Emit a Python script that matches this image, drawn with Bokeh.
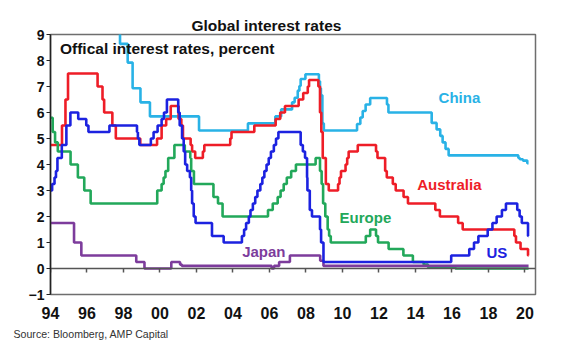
from bokeh.plotting import figure
from bokeh.models import Range1d, FixedTicker, LinearAxis, Label, Title
from bokeh.embed import file_html
from bokeh.resources import INLINE

# ---- data: change points (decimal year, percent) ----
us_year = [1994.0, 1994.09, 1994.22, 1994.30, 1994.38, 1994.62, 1994.87, 1995.09, 1995.52, 1995.96,
           1996.08, 1997.23, 1998.74, 1998.79, 1998.87, 1999.50, 1999.65, 1999.87, 2000.09, 2000.22,
           2000.38, 2001.00, 2001.08, 2001.21, 2001.30, 2001.38, 2001.49, 2001.64, 2001.71, 2001.76,
           2001.85, 2001.95, 2002.85, 2003.49, 2004.49, 2004.61, 2004.72, 2004.87, 2004.96, 2005.09,
           2005.22, 2005.34, 2005.50, 2005.61, 2005.72, 2005.84, 2005.96, 2006.08, 2006.24, 2006.36,
           2006.49, 2007.71, 2007.83, 2007.95, 2008.06, 2008.08, 2008.21, 2008.33, 2008.77, 2008.83,
           2008.96, 2015.96, 2016.95, 2017.21, 2017.45, 2017.96, 2018.22, 2018.45, 2018.74, 2018.96,
           2019.58, 2019.71, 2019.83, 2020.17, 2020.20]
us_rate = [3.0, 3.25, 3.5, 3.75, 4.25, 4.75, 5.5, 6.0, 5.75, 5.5,
           5.25, 5.5, 5.25, 5.0, 4.75, 5.0, 5.25, 5.5, 5.75, 6.0,
           6.5, 6.0, 5.5, 5.0, 4.5, 4.0, 3.75, 3.5, 3.0, 2.5,
           2.0, 1.75, 1.25, 1.0, 1.25, 1.5, 1.75, 2.0, 2.25, 2.5,
           2.75, 3.0, 3.25, 3.5, 3.75, 4.0, 4.25, 4.5, 4.75, 5.0,
           5.25, 4.75, 4.5, 4.25, 3.5, 3.0, 2.25, 2.0, 1.5, 1.0,
           0.25, 0.5, 0.75, 1.0, 1.25, 1.5, 1.75, 2.0, 2.25, 2.5,
           2.25, 2.0, 1.75, 1.25, 1.25]

aus_year = [1994.0, 1994.63, 1994.82, 1994.96, 1996.58, 1996.85, 1996.94, 1997.39, 1997.58, 1998.92,
            1999.84, 2000.09, 2000.34, 2000.59, 2001.02, 2001.17, 2001.26, 2001.68, 2001.76, 2001.93,
            2002.35, 2002.43, 2003.85, 2003.92, 2005.17, 2006.34, 2006.59, 2006.85, 2007.60, 2007.85,
            2008.10, 2008.17, 2008.68, 2008.77, 2008.84, 2008.92, 2009.09, 2009.25, 2009.76, 2009.84,
            2009.92, 2010.17, 2010.26, 2010.34, 2010.84, 2011.84, 2011.92, 2012.34, 2012.43, 2012.76,
            2012.92, 2013.35, 2013.59, 2015.09, 2015.34, 2016.34, 2016.59, 2019.42, 2019.51, 2019.76,
            2020.17, 2020.20]
aus_rate = [4.75, 5.5, 6.5, 7.5, 7.0, 6.5, 6.0, 5.5, 5.0, 4.75,
            5.0, 5.5, 5.75, 6.25, 5.75, 5.5, 5.0, 4.75, 4.5, 4.25,
            4.5, 4.75, 5.0, 5.25, 5.5, 5.75, 6.0, 6.25, 6.5, 6.75,
            7.0, 7.25, 7.0, 6.0, 5.25, 4.25, 3.25, 3.0, 3.25, 3.5,
            3.75, 4.0, 4.25, 4.5, 4.75, 4.5, 4.25, 3.75, 3.5, 3.25,
            3.0, 2.75, 2.5, 2.25, 2.0, 1.75, 1.5, 1.25, 1.0, 0.75,
            0.5, 0.5]

chn_year = [1994.0, 1995.52, 1996.37, 1996.64, 1997.81, 1998.23, 1998.50, 1998.93, 1999.45, 2002.14,
            2004.82, 2006.32, 2006.64, 2007.24, 2007.38, 2007.55, 2007.64, 2007.71, 2007.97, 2008.71,
            2008.77, 2008.82, 2008.90, 2008.98, 2010.80, 2010.98, 2011.11, 2011.27, 2011.52, 2012.44,
            2012.52, 2014.89, 2015.16, 2015.36, 2015.49, 2015.65, 2015.82, 2019.64, 2019.72, 2019.89,
            2020.13, 2020.20]
chn_rate = [10.98, 12.06, 10.98, 10.08, 8.64, 7.92, 6.93, 6.39, 5.85, 5.31,
            5.58, 5.85, 6.12, 6.39, 6.57, 6.84, 7.02, 7.29, 7.47, 7.20,
            6.93, 6.66, 5.58, 5.31, 5.56, 5.81, 6.06, 6.31, 6.56, 6.31,
            6.0, 5.6, 5.35, 5.1, 4.85, 4.6, 4.35, 4.25, 4.20, 4.15,
            4.05, 4.05]

eur_year = [1994.0, 1994.12, 1994.25, 1994.40, 1995.10, 1995.50, 1995.85, 1996.20, 1999.85, 2000.09,
            2000.20, 2000.30, 2000.45, 2000.79, 2001.36, 2001.66, 2001.71, 2001.86, 2002.93, 2003.18,
            2003.43, 2005.92, 2006.18, 2006.45, 2006.61, 2006.78, 2006.95, 2007.19, 2007.45, 2008.53,
            2008.77, 2008.86, 2008.94, 2009.06, 2009.19, 2009.27, 2009.36, 2011.28, 2011.52, 2011.84,
            2011.95, 2012.53, 2013.34, 2013.86, 2014.45, 2014.69, 2016.19, 2020.20]
eur_rate = [5.8, 5.25, 4.85, 4.5, 4.0, 3.5, 3.0, 2.5, 3.0, 3.25,
            3.5, 3.75, 4.25, 4.75, 4.5, 4.25, 3.75, 3.25, 2.75, 2.5,
            2.0, 2.25, 2.5, 2.75, 3.0, 3.25, 3.5, 3.75, 4.0, 4.25,
            3.75, 3.25, 2.5, 2.0, 1.5, 1.25, 1.0, 1.25, 1.5, 1.25,
            1.0, 0.75, 0.5, 0.25, 0.15, 0.05, 0.0, 0.0]

jpn_year = [1994.0, 1995.29, 1995.69, 1998.70, 1999.15, 2000.62, 2001.10, 2001.20, 2006.12, 2006.25,
            2006.53, 2007.12, 2008.78, 2008.96, 2020.20]
jpn_rate = [1.75, 1.0, 0.5, 0.25, 0.0, 0.25, 0.15, 0.1, 0.0, 0.1,
            0.25, 0.5, 0.3, 0.1, 0.1]

tick_years = [1994, 1996, 1998, 2000, 2002, 2004, 2006, 2008, 2010, 2012, 2014, 2016, 2018, 2020]
tick_labels = ["94", "96", "98", "00", "02", "04", "06", "08", "10", "12", "14", "16", "18", "20"]
y_ticks = [-1, 0, 1, 2, 3, 4, 5, 6, 7, 8, 9]

series = [
    ("China", chn_year, chn_rate, "#29b2e6", 2016.41, 6.58),
    ("Australia", aus_year, aus_rate, "#ee1d27", 2015.86, 3.23),
    ("Europe", eur_year, eur_rate, "#22a85a", 2011.26, 1.97),
    ("Japan", jpn_year, jpn_rate, "#7d3c9c", 2005.69, 0.65),
    ("US", us_year, us_rate, "#1c22e0", 2018.46, 0.63),
]

FONT = "Liberation Sans"

p = figure(frame_width=485, frame_height=260,
           min_border_left=50, min_border_right=45, min_border_top=34, min_border_bottom=58,
           x_range=Range1d(1994, 2020.58), y_range=Range1d(-1, 9),
           output_backend="svg", toolbar_location=None)
p.background_fill_color = "white"
p.border_fill_color = "white"
p.grid.visible = False
p.outline_line_color = "#6e6e6e"
p.outline_line_width = 1.5

# title
p.title.text = "Global interest rates"
p.title.text_font = FONT
p.title.text_font_size = "15.5px"
p.title.text_font_style = "bold"
p.title.text_color = "#111111"
p.title.align = "left"
p.title.offset = 141
p.title.standoff = 2

# y axis
ya = p.yaxis[0]
ya.ticker = FixedTicker(ticks=y_ticks)
ya.axis_line_color = "#222222"
ya.axis_line_width = 1.5
ya.major_tick_line_color = "#222222"
ya.major_tick_in = 0
ya.major_tick_out = 4
ya.minor_tick_line_color = None
ya.major_label_standoff = 2
ya.major_label_text_font = FONT
ya.major_label_text_font_size = "14px"
ya.major_label_text_font_style = "bold"
ya.major_label_text_color = "#111111"

# x axis A: zero line with ticks (no labels)
xa = p.xaxis[0]
xa.fixed_location = 0
xa.ticker = FixedTicker(ticks=tick_years)
xa.axis_line_color = "#555555"
xa.axis_line_width = 1.5
xa.major_tick_line_color = "#555555"
xa.major_tick_line_width = 1.5
xa.major_tick_in = 0
xa.major_tick_out = 4
xa.minor_tick_line_color = None
xa.major_label_text_font_size = "0px"
xa.major_label_text_color = None
xa.major_label_standoff = 0

# x axis B: labels
xb = LinearAxis(ticker=FixedTicker(ticks=tick_years),
                major_label_overrides={y: l for y, l in zip(tick_years, tick_labels)},
                axis_line_color=None, major_tick_line_color=None, minor_tick_line_color=None,
                major_tick_in=0, major_tick_out=0, major_label_standoff=12,
                major_label_text_font=FONT, major_label_text_font_size="16px",
                major_label_text_font_style="bold", major_label_text_color="#111111")
p.add_layout(xb, "below")

src = Title(text="Source: Bloomberg, AMP Capital", align="left", offset=-37,
            text_font=FONT, text_font_size="10.6px", text_font_style="normal",
            text_color="#333333", standoff=8)
p.add_layout(src, "below")

for name, xs, ys, col, lx, ly in series:
    p.step(xs, ys, mode="after", line_color=col, line_width=2.6)
    p.add_layout(Label(x=lx, y=ly, text=name, text_color=col, text_font=FONT,
                       text_font_size="15px", text_font_style="bold",
                       text_align="center", text_baseline="middle"))

p.add_layout(Label(x=1994.52, y=8.45, text="Offical interest rates, percent", text_color="#111111",
                   text_font=FONT, text_font_size="15.5px", text_font_style="bold",
                   text_align="left", text_baseline="middle"))

open("out.html", "w").write(file_html(p, INLINE))
